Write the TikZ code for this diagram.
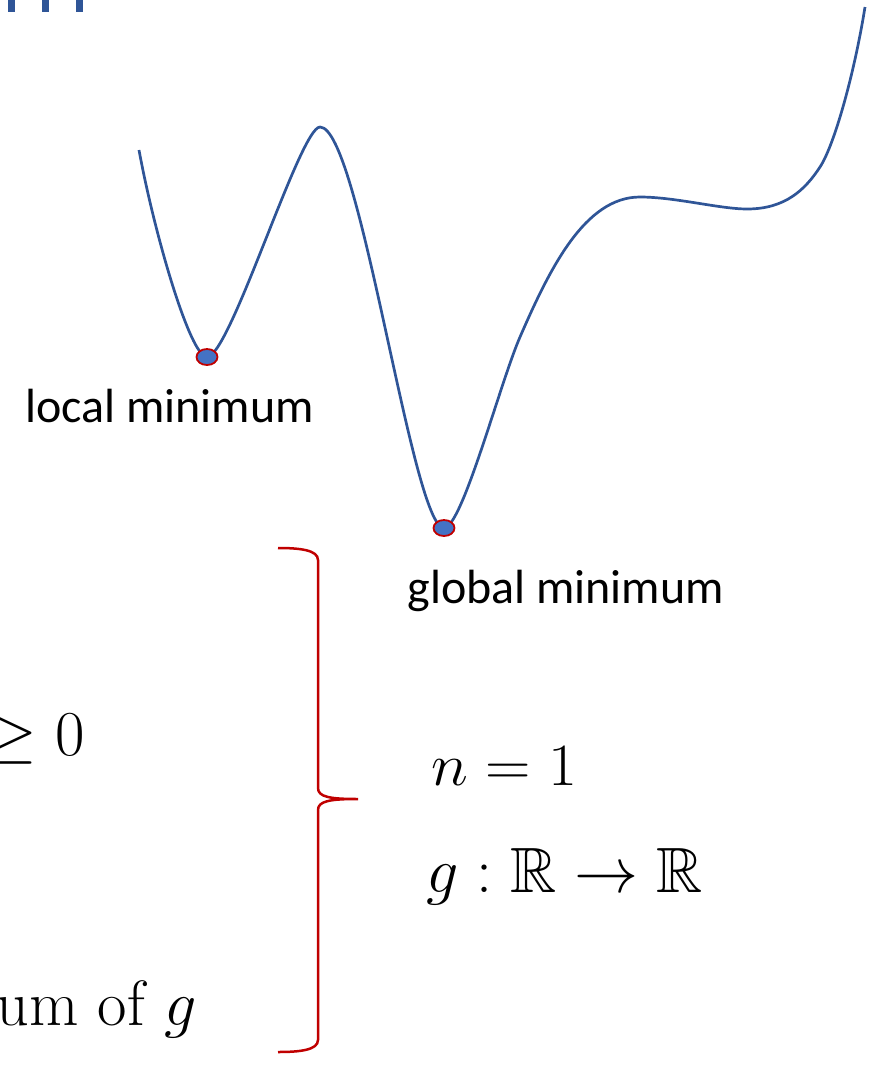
\RequirePackage{fix-cm}
\documentclass[tikz,border=0pt]{standalone}
\usepackage{amsmath,amssymb}
\usepackage{graphicx}
\usepackage{fontspec}
\newfontfamily\labelfont{Carlito}
\usetikzlibrary{shapes.geometric}
\definecolor{curveblue}{HTML}{2F5597}
\definecolor{dotblue}{HTML}{4472C4}
\definecolor{bracered}{HTML}{C00000}

\begin{document}
\begin{tikzpicture}[
		x=0.5pt,y=-0.5pt,
		landscape/.style={draw=curveblue,line width=1.35pt},
		minpoint/.style={
			ellipse,
			draw=bracered,
			fill=dotblue,
			line width=0.9pt,
			minimum width=10.5pt,
			minimum height=8pt,
			inner sep=0pt
		},
		caption/.style={inner sep=0pt,anchor=base west,font=\labelfont\fontsize{24}{29}\selectfont},
		cond/.style={inner sep=0pt,anchor=base west},
		cutoff/.style={inner sep=0pt,anchor=base east,font=\fontsize{32}{38}\selectfont},
		bracket/.style={draw=bracered,line width=1.25pt}
		]
		
		\useasboundingbox (0,0) rectangle (881,1083);
		\clip (0,0) rectangle (881,1083);
		
		\fill[curveblue] (8,-5) rectangle (15,12);
		\fill[curveblue] (42,-5) rectangle (49,12);
		\fill[curveblue] (76,-5) rectangle (83,12);
		
		\coordinate (start) at (139,150);
		\coordinate (locpt) at (207,357);
		\coordinate (peak) at (320,127);
		\coordinate (globpt) at (444,528);
		\coordinate (kink) at (520,337);
		\coordinate (shoulder) at (640,197);
		\coordinate (flat) at (747,209);
		\coordinate (bend) at (820,167);
		\coordinate (rise) at (865,7);
		
		\draw[landscape] (start)
		.. controls (154,232) and (190,357) .. (locpt)
		.. controls (230,357) and (300,127) .. (peak)
		.. controls (360,127) and (412,528) .. (globpt)
		.. controls (462,528) and (500,383) .. (kink)
		.. controls (550,268) and (585,197) .. (shoulder)
		.. controls (675,197) and (720,209) .. (flat)
		.. controls (785,209) and (805,190) .. (bend)
		.. controls (835,144) and (855,70) .. (rise);
		
		\node[minpoint] (locmin) at (locpt) {};
		\node[minpoint] (globmin) at (globpt) {};
		
		\node[caption] (loclabel) at (25,422) {local minimum};
		\node[caption] (globlabel) at (407,603) {global minimum};
		
		\node[cutoff] (nonneg) at (85,755) {$\geq 0$};
		\node[cutoff] (minof) at (197,1025) {um of $g$};
		
		\coordinate (bracetop) at (278,548);
		\coordinate (bracetip) at (358,799);
		\coordinate (bracebot) at (278,1052);
		
		\draw[bracket] (bracetop)
		.. controls (300,548) and (318,550) .. (318,560)
		-- (318,788)
		.. controls (318,797) and (330,799) .. (bracetip)
		.. controls (330,799) and (318,801) .. (318,810)
		-- (318,1040)
		.. controls (318,1050) and (300,1052) .. (bracebot);
		
		\node[cond,font=\fontsize{30}{36}\selectfont] (dim) at (431,785) {\scalebox{1.05}[1]{$n=1$}};
		\node[cond,font=\fontsize{32}{38}\selectfont] (map) at (426,892) {$g:\mathbb{R}\to\mathbb{R}$};
		
	\end{tikzpicture}
\end{document}
